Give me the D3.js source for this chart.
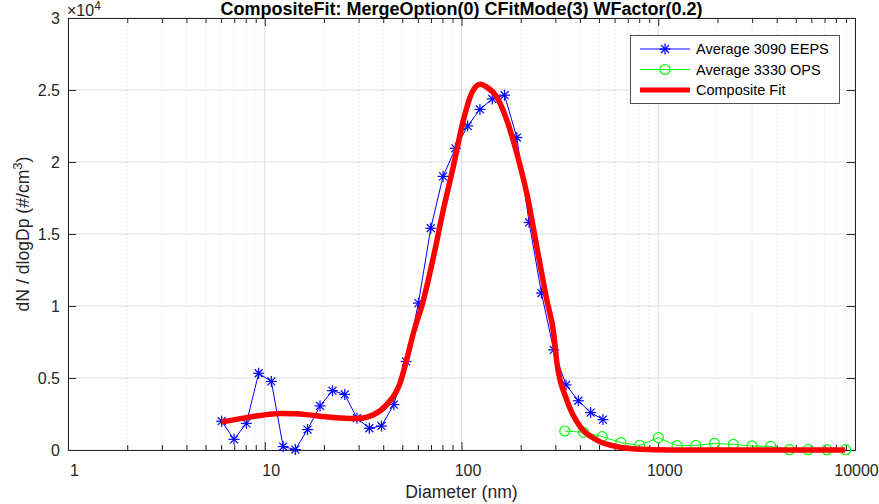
<!doctype html>
<meta charset="utf-8">
<style>
  body { margin: 0; background: #fff; }
  svg { font-family: "Liberation Sans", Arial, sans-serif; }
  .grid-major { stroke: #dedede; stroke-width: 1; }
  .grid-minor { stroke: #d4d4d4; stroke-width: 1; stroke-dasharray: 1,3; }
  .axis path, .axis line { stroke: #262626; }
  .axis text { fill: #262626; font-size: 16px; }
</style>
<svg id="chart" width="879" height="504"></svg>
<script src="https://d3js.org/d3.v7.min.js"></script>
<script>
  // EEPS 3090 channel midpoints (nm) and averaged dN/dlogDp
  let eepsDp = [6.04, 6.98, 8.06, 9.31, 10.8, 12.4, 14.3, 16.5, 19.1, 22.1, 25.5, 29.4,
    34.0, 39.2, 45.3, 52.3, 60.4, 69.8, 80.6, 93.1, 107.5, 124.1, 143.3, 165.5,
    191.1, 220.7, 254.8, 294.3, 339.8, 392.4, 453.2, 523.3];
  let eepsN = [2000, 740, 1850, 5330, 4760, 240, 30, 1420, 3060, 4120, 3860, 2210,
    1510, 1670, 3150, 6150, 10200, 15400, 19000, 20950, 22500, 23650, 24380, 24640,
    21700, 15800, 10900, 6950, 4520, 3420, 2600, 2110];

  // OPS 3330 channel midpoints (nm)
  let opsDp = [335, 417, 519, 646, 804, 1001, 1246, 1552, 1932, 2406, 2995, 3729,
    4643, 5781, 7197, 8962];
  let opsN = [1320, 1230, 930, 510, 320, 860, 300, 320, 460, 390, 280, 250, 20, 20, 20, 20];

  // composite fit
  let fitDp = [6.04, 8.1, 12.0, 14.5, 19.1, 24.1, 29.4, 35.7, 41.7, 48.7, 52.7, 56.9,
    64.0, 72.0, 80.9, 90.9, 102.2, 112.8, 124.3, 134.5, 151.2, 170.0, 191.1, 214.8,
    241.5, 271.5, 293.3, 305.1, 343.0, 400.9, 487.4, 615.9, 809, 1150, 8900];
  let fitN = [1950, 2250, 2540, 2520, 2350, 2230, 2180, 2450, 3150, 4640, 6300, 8100,
    10400, 13400, 16700, 19700, 22900, 24800, 25400, 25200, 24500, 22900, 20600, 17800,
    14100, 10400, 8200, 6100, 3470, 1620, 690, 230, 50, 0, 0];

  let xMajor = [1, 10, 100, 1000, 10000];
  let yTicks = [0, 5000, 10000, 15000, 20000, 25000, 30000];
  let yTickLabels = ["0", "0.5", "1", "1.5", "2", "2.5", "3"];

  let svg = d3.select("#chart");
  let pL = 68, pR = 855, pT = 18, pB = 450;

  let x = d3.scaleLog().domain([1, 10000]).range([pL, pR]);
  let y = d3.scaleLinear().domain([0, 30000]).range([pB, pT]);

  let xMinor = [];
  for (let dec = 1; dec < 10000; dec *= 10)
    for (let k = 2; k < 10; k++) xMinor.push(dec * k);

  // grid
  svg.append("g").selectAll("line").data(xMinor).enter().append("line")
    .attr("class", "grid-minor")
    .attr("x1", d => x(d)).attr("x2", d => x(d))
    .attr("y1", pT).attr("y2", pB);
  svg.append("g").selectAll("line").data(xMajor).enter().append("line")
    .attr("class", "grid-major")
    .attr("x1", d => x(d)).attr("x2", d => x(d))
    .attr("y1", pT).attr("y2", pB);
  svg.append("g").selectAll("line").data(yTicks).enter().append("line")
    .attr("class", "grid-major")
    .attr("x1", pL).attr("x2", pR)
    .attr("y1", d => y(d)).attr("y2", d => y(d));

  // axes, ticks pointing inward
  let xb = svg.append("g").attr("class", "axis")
    .attr("transform", `translate(0,${pB})`)
    .call(d3.axisBottom(x).tickValues(xMajor).tickFormat(d3.format("d"))
      .tickSizeInner(-8).tickSizeOuter(0).tickPadding(15));
  xb.selectAll(".tick text").attr("x", d => d == 10000 ? 1 : 6);
  svg.append("g").attr("class", "axis")
    .attr("transform", `translate(0,${pB})`)
    .call(d3.axisBottom(x).tickValues(xMinor).tickFormat("").tickSizeInner(-5).tickSizeOuter(0))
    .select(".domain").remove();
  svg.append("g").attr("class", "axis")
    .attr("transform", `translate(0,${pT})`)
    .call(d3.axisTop(x).tickValues(xMajor).tickFormat("").tickSizeInner(-8).tickSizeOuter(0));
  svg.append("g").attr("class", "axis")
    .attr("transform", `translate(0,${pT})`)
    .call(d3.axisTop(x).tickValues(xMinor).tickFormat("").tickSizeInner(-5).tickSizeOuter(0))
    .select(".domain").remove();
  svg.append("g").attr("class", "axis")
    .attr("transform", `translate(${pL},0)`)
    .call(d3.axisLeft(y).tickValues(yTicks).tickFormat((d, i) => yTickLabels[i])
      .tickSizeInner(-8).tickSizeOuter(0).tickPadding(8));
  svg.append("g").attr("class", "axis")
    .attr("transform", `translate(${pR},0)`)
    .call(d3.axisRight(y).tickValues(yTicks).tickFormat("").tickSizeInner(-8).tickSizeOuter(0));

  // exponent
  let ex = svg.append("text").attr("x", pL - 1).attr("y", 16)
    .attr("fill", "#262626").style("font-size", "16px");
  ex.append("tspan").text("\u00d710");
  ex.append("tspan").attr("dy", -6).style("font-size", "12px").text("4");

  // title and labels
  svg.append("text").attr("x", (pL + pR) / 2).attr("y", 14.5)
    .attr("text-anchor", "middle").style("font-size", "18px").style("font-weight", "bold")
    .attr("fill", "#000")
    .text("CompositeFit: MergeOption(0) CFitMode(3) WFactor(0.2)");
  svg.append("text").attr("x", (pL + pR) / 2).attr("y", 498)
    .attr("text-anchor", "middle").style("font-size", "17.6px").attr("fill", "#262626")
    .text("Diameter (nm)");
  let yl = svg.append("text")
    .attr("transform", `translate(29,${(pT + pB) / 2}) rotate(-90)`)
    .attr("text-anchor", "middle").style("font-size", "17.6px").attr("fill", "#262626");
  yl.append("tspan").text("dN / dlogDp (#/cm");
  yl.append("tspan").attr("dy", -7).style("font-size", "13px").text("3");
  yl.append("tspan").attr("dy", 7).text(")");

  function star(g, cx, cy, r, color) {
    let d = r * 0.72;
    let segs = [[-r, 0, r, 0], [0, -r, 0, r], [-d, -d, d, d], [-d, d, d, -d]];
    segs.forEach(s => g.append("line")
      .attr("x1", cx + s[0]).attr("y1", cy + s[1]).attr("x2", cx + s[2]).attr("y2", cy + s[3])
      .attr("stroke", color).attr("stroke-width", 1.2));
  }

  let line = d3.line().x(d => x(d[0])).y(d => y(d[1]));

  // EEPS
  let eeps = d3.zip(eepsDp, eepsN);
  svg.append("path").datum(eeps).attr("d", line)
    .attr("fill", "none").attr("stroke", "#0000ff").attr("stroke-width", 1);
  let eg = svg.append("g");
  eeps.forEach(p => star(eg, x(p[0]), y(p[1]), 5.5, "#0000ff"));

  // OPS
  let ops = d3.zip(opsDp, opsN);
  svg.append("path").datum(ops).attr("d", line)
    .attr("fill", "none").attr("stroke", "#00ff00").attr("stroke-width", 1);
  svg.append("g").selectAll("circle").data(ops).enter().append("circle")
    .attr("cx", d => x(d[0])).attr("cy", d => y(d[1])).attr("r", 5)
    .attr("fill", "none").attr("stroke", "#00ff00").attr("stroke-width", 1.2);

  // fit
  let fit = d3.zip(fitDp, fitN);
  svg.append("path").datum(fit).attr("d", line.curve(d3.curveMonotoneX))
    .attr("fill", "none").attr("stroke", "#ff0000").attr("stroke-width", 5.5)
    .attr("stroke-linejoin", "round").attr("stroke-linecap", "butt");

  // legend
  let lg = svg.append("g");
  lg.append("rect").attr("x", 630.5).attr("y", 35.5).attr("width", 209).attr("height", 68)
    .attr("fill", "#fff").attr("stroke", "#262626").attr("stroke-width", 0.8);
  let names = ["Average 3090 EEPS", "Average 3330 OPS", "Composite Fit"];
  let ly = [49, 69.5, 90];
  names.forEach((n, i) => {
    let col = ["#0000ff", "#00ff00", "#ff0000"][i];
    lg.append("line").attr("x1", 640).attr("x2", 690).attr("y1", ly[i]).attr("y2", ly[i])
      .attr("stroke", col).attr("stroke-width", i == 2 ? 5 : 1);
    if (i == 0) star(lg, 665, ly[i], 5.5, col);
    if (i == 1) lg.append("circle").attr("cx", 665).attr("cy", ly[i]).attr("r", 5)
      .attr("fill", "none").attr("stroke", col).attr("stroke-width", 1.2);
    lg.append("text").attr("x", 696).attr("y", ly[i] + 5).style("font-size", "14.5px")
      .attr("fill", "#000").text(n);
  });
</script>
